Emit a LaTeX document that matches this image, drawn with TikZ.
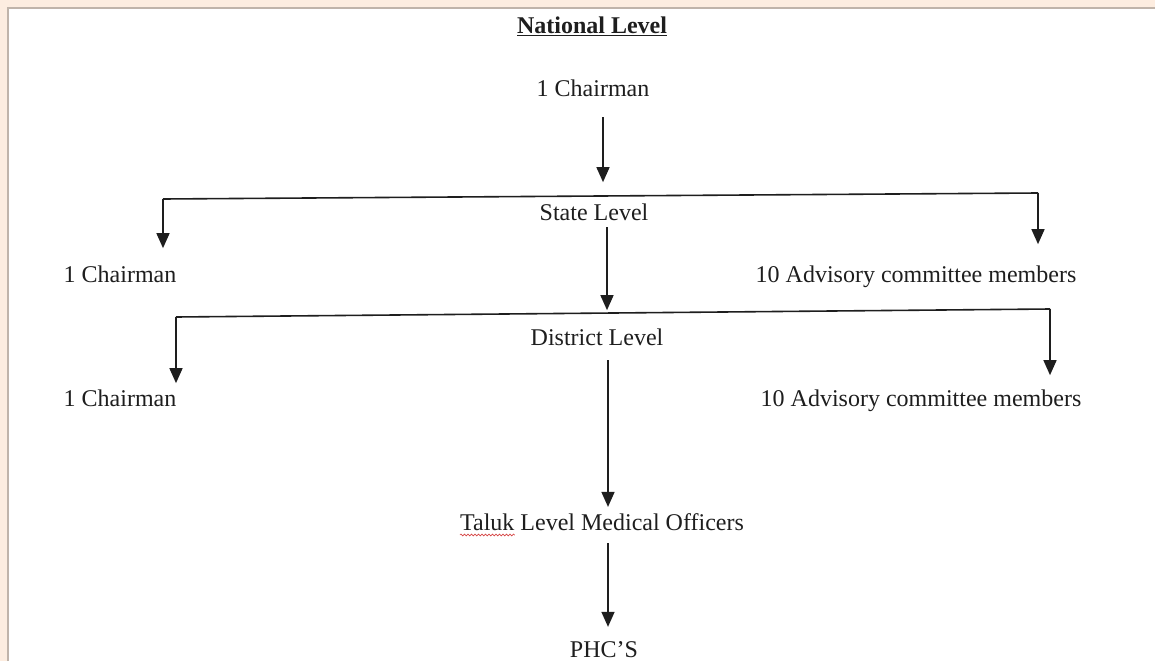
\documentclass[tikz,border=0pt]{standalone}
\usepackage{fontspec}
\setmainfont{Liberation Serif}
\usetikzlibrary{arrows.meta,positioning,decorations.pathmorphing}
\definecolor{pageBg}{RGB}{253,237,224}
\definecolor{frameGray}{RGB}{192,180,170}
\definecolor{inkBlack}{RGB}{30,30,30}
\definecolor{spellRed}{RGB}{214,70,70}
\tikzset{
  lbl/.style={inner sep=0pt, anchor=base, text=inkBlack, font=\fontsize{24}{28}\selectfont},
  title/.style={inner sep=0pt, anchor=base, text=inkBlack, font=\fontsize{24}{28}\selectfont\bfseries},
  arrow/.style={-{Triangle[length=15pt,width=13pt]}, line width=1.5pt, draw=inkBlack},
  bus/.style={line width=1.6pt, draw=inkBlack},
  squiggle/.style={draw=spellRed, line width=0.6pt, decorate, decoration={snake, amplitude=0.9pt, segment length=3.5pt}}
}

\begin{document}
\begin{tikzpicture}[x=1pt,y=-1pt]
  \useasboundingbox (0,0) rectangle (1155,661);
  \fill[pageBg] (0,0) rectangle (1155,661);
  \fill[white] (8,8) rectangle (1155,661);
  \draw[frameGray, line width=1.3pt] (8,661) -- (8,8) -- (1155,8);

  \node[title] (natLevel) at (592,34) {\underline{National Level}};
  \node[lbl] (natChair) at (593,96) {1 Chairman};
  \node[lbl] (stateLevel) at (594,220) {State Level};
  \node[lbl] (stateChair) at (120,282) {1 Chairman};
  \node[lbl] (stateAdv) at (916,282) {10 Advisory committee members};
  \node[lbl] (distLevel) at (597,345) {District Level};
  \node[lbl] (distChair) at (120,406) {1 Chairman};
  \node[lbl] (distAdv) at (921,406) {10 Advisory committee members};
  \node[lbl] (taluk) at (602,530) {Taluk Level Medical Officers};
  \node[lbl] (phc) at (604,657) {PHC’S};

  \coordinate (stateBusL) at (163,199);
  \coordinate (stateBusR) at (1038,193);
  \coordinate (distBusL) at (176,317);
  \coordinate (distBusR) at (1050,309);

  % state level bus
  \draw[bus] (stateBusL) -- (stateBusR);
  \draw[arrow, shorten >=17pt] (stateBusL) -- (stateBusL |- stateChair.north);
  \draw[arrow, shorten >=21pt] (stateBusR) -- (stateBusR |- stateAdv.north);

  % district level bus
  \draw[bus] (distBusL) -- (distBusR);
  \draw[arrow, shorten >=6pt] (distBusL) -- (distBusL |- distChair.north);
  \draw[arrow, shorten >=14pt] (distBusR) -- (distBusR |- distAdv.north);

  % down the middle
  \draw[arrow, shorten <=21pt, shorten >=21pt] ([xshift=10pt]natChair.south) -- ([xshift=10pt]natChair.south |- stateLevel.north);
  \draw[arrow, shorten <=7pt, shorten >=18pt] ([xshift=13pt]stateLevel.south) -- ([xshift=13pt]stateLevel.south |- distLevel.north);
  \draw[arrow, shorten <=15pt, shorten >=6pt] ([xshift=11pt]distLevel.south) -- ([xshift=11pt]distLevel.south |- taluk.north);
  \draw[arrow, shorten <=13pt, shorten >=14pt] ([xshift=6pt]taluk.south) -- ([xshift=6pt]taluk.south |- phc.north);

  \draw[squiggle] ([yshift=-5pt]taluk.base west) -- ++(55,0);
\end{tikzpicture}
\end{document}
